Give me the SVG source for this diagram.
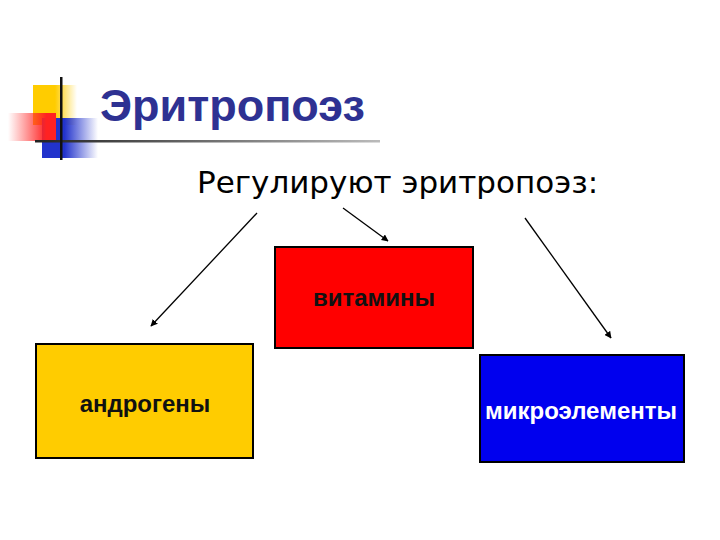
<svg xmlns="http://www.w3.org/2000/svg" width="720" height="540" viewBox="0 0 720 540">
<defs>
<linearGradient id="gy" x1="0" y1="0" x2="1" y2="0"><stop offset="0.5" stop-color="#FFCC00"/><stop offset="1" stop-color="#FFCC00" stop-opacity="0"/></linearGradient>
<linearGradient id="gr" x1="0" y1="0" x2="1" y2="0"><stop offset="0" stop-color="#FF3333" stop-opacity="0"/><stop offset="0.8" stop-color="#FF2222"/></linearGradient>
<linearGradient id="gb" x1="0" y1="0" x2="1" y2="0"><stop offset="0.4" stop-color="#2233CC"/><stop offset="1" stop-color="#2233CC" stop-opacity="0"/></linearGradient>
<linearGradient id="gl" x1="0" y1="0" x2="1" y2="0"><stop offset="0" stop-color="#222222"/><stop offset="1" stop-color="#BBBBBB"/></linearGradient>
<marker id="ah" viewBox="0 0 10 10" refX="9" refY="5" markerWidth="7" markerHeight="7" orient="auto" markerUnits="userSpaceOnUse"><path d="M0,0 L10,5 L0,10 z" fill="#000"/></marker>
<style>
.box{stroke:#000;stroke-width:2}
.lbl{font-family:"Liberation Sans",Arial,sans-serif;font-size:24px;font-weight:bold;text-anchor:middle}
.con{stroke:#000;stroke-width:1.3;fill:none;marker-end:url(#ah)}
</style>
</defs>
<rect width="720" height="540" fill="#fff"/>
<g id="decor">
<rect x="33" y="85" width="44" height="40" fill="url(#gy)"/>
<rect x="42" y="118" width="56" height="40" fill="url(#gb)"/>
<rect x="8" y="113" width="48" height="28" fill="url(#gr)"/>
<rect x="35" y="140" width="345" height="2.5" fill="url(#gl)"/>
<rect x="60" y="77" width="2.5" height="83" fill="#111"/>
</g>
<text x="100" y="121" font-family="Liberation Sans,Arial,sans-serif" font-size="45" font-weight="bold" fill="#2E3192">Эритропоэз</text>
<text x="197" y="193" font-family="DejaVu Sans,sans-serif" font-size="31" fill="#000">Регулируют эритропоэз:</text>
<g id="connectors">
<line class="con" x1="257" y1="213" x2="151" y2="326"/>
<line class="con" x1="343" y1="208" x2="388" y2="241"/>
<line class="con" x1="525" y1="218" x2="611" y2="338"/>
</g>
<g id="n-vitamins">
<rect class="box" x="275" y="247" width="198" height="101" fill="#FF0000" stroke-width="1"/>
<text class="lbl" x="374" y="306" fill="#111">витамины</text>
</g>
<g id="n-androgens">
<rect class="box" x="36" y="344" width="217" height="114" fill="#FFCC00"/>
<text class="lbl" x="145" y="412" fill="#111">андрогены</text>
</g>
<g id="n-micro">
<rect class="box" x="480" y="355" width="204" height="107" fill="#0000EE" stroke="#fff" stroke-width="1"/>
<text class="lbl" x="581" y="419" fill="#fff">микроэлементы</text>
</g>
</svg>
